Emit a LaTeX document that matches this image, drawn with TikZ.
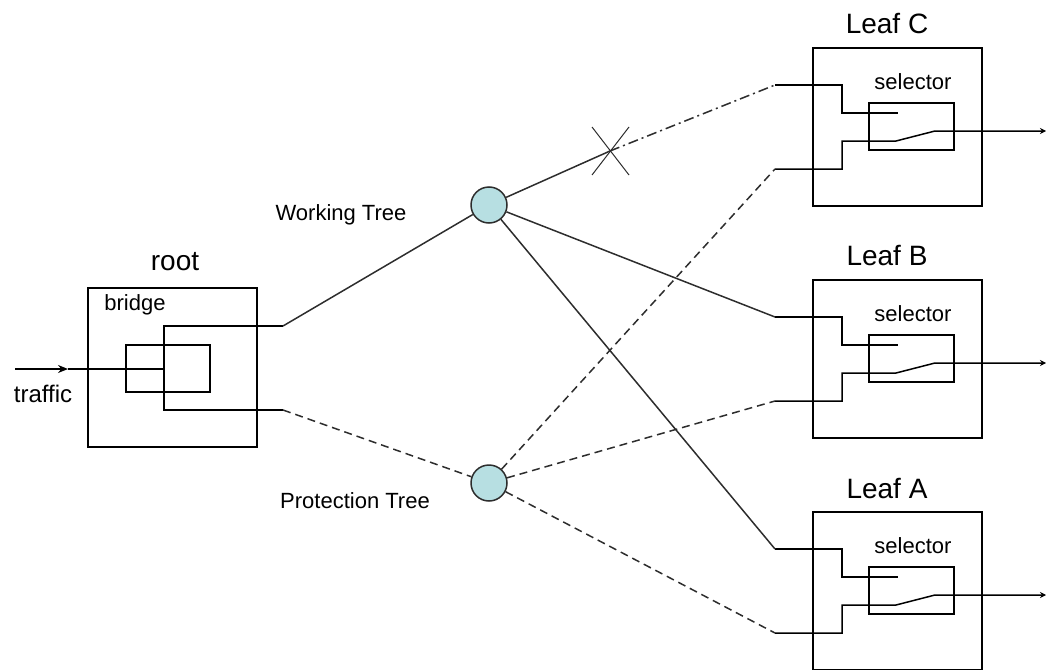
\documentclass[tikz,border=0pt]{standalone}
\usepackage{fontspec}
\setmainfont{Liberation Sans}
\usetikzlibrary{arrows.meta}

\definecolor{nodefill}{RGB}{183,223,226}
\definecolor{wire}{RGB}{45,45,45}

\begin{document}
\begin{tikzpicture}[x=1pt,y=-1pt,
    wire/.style={color=wire,line width=1.5pt},
    inner/.style={color=black,line width=1.5pt},
    prot/.style={wire,dash pattern=on 8pt off 5pt},
    broken/.style={wire,dash pattern=on 10pt off 4pt on 2pt off 4pt},
    boxed/.style={draw=black,line width=1.5pt,inner sep=0pt,rectangle},
    treenode/.style={draw=wire,circle,fill=nodefill,line width=1.5pt,
      minimum size=36pt,inner sep=0pt},
    big/.style={font=\fontsize{28}{30}\selectfont,inner sep=0pt},
    small/.style={font=\fontsize{22}{24}\selectfont,inner sep=0pt}]
  \useasboundingbox (0,0) rectangle (1046,669);

  % root with its bridge
  \node[boxed,minimum width=169pt,minimum height=159pt] (root) at (172.5,367.5) {};
  \node[big] (rootlbl) at (175,262) {root};
  \node[small] (bridgelbl) at (135,305) {bridge};
  \node[boxed,minimum width=84pt,minimum height=47pt] (bridge) at (168,368.5) {};
  \coordinate (rootW) at (283,326);
  \coordinate (rootP) at (283,410);
  \draw[inner] (rootW) -| (164,410) -- (rootP);
  \coordinate (trafficin) at (15,369);
  \coordinate (trafficat) at (68,369);
  \draw[inner,-{Stealth[length=10pt,width=8pt]}] (trafficin) -- (trafficat);
  \draw[inner] (trafficat) -- (164,369);
  \node[small,font=\fontsize{24}{26}\selectfont] (trafficlbl) at (43,394) {traffic};

  % the two trees
  \node[treenode] (work) at (489,205) {};
  \node[treenode] (protn) at (489,483) {};
  \node[small] (worklbl) at (341,215) {Working Tree};
  \node[small] (protlbl) at (355,501) {Protection Tree};

  % leaves
  \foreach \name/\t in {C/48,B/280,A/512}{
    \node[boxed,minimum width=169pt,minimum height=158pt] (leaf\name) at (897.5,\t+79) {};
    \node[big] (lbl\name) at (887,\t-24) {Leaf \name};
    \node[boxed,minimum width=85pt,minimum height=47pt] (sel\name) at (911.5,\t+78.5) {};
    \node[small] (sellbl\name) at (913,\t+34) {selector};
    \coordinate (w\name) at (775,\t+37);
    \coordinate (p\name) at (775,\t+121);
    \coordinate (out\name) at (1046,\t+83);
    \draw[inner] (w\name) -| (842,\t+65) -- (898,\t+65);
    \draw[inner,-{Stealth[length=6pt,width=6pt]}] (p\name) -| (842,\t+93)
      -- (896,\t+93) -- (935,\t+83) -- (out\name);
  }

  % working tree
  \coordinate (cut) at (610,151);
  \draw[wire] (rootW) -- (work);
  \draw[wire] (work) -- (cut);
  \draw[broken] (cut) -- (wC);
  \draw[wire,line width=1pt] (592,127) -- (629,175) (592,175) -- (629,127);
  \draw[wire] (work) -- (wB);
  \draw[wire] (work) -- (wA);

  % protection tree
  \draw[prot] (rootP) -- (protn);
  \draw[prot] (protn) -- (pC);
  \draw[prot] (protn) -- (pB);
  \draw[prot] (protn) -- (pA);
\end{tikzpicture}
\end{document}
